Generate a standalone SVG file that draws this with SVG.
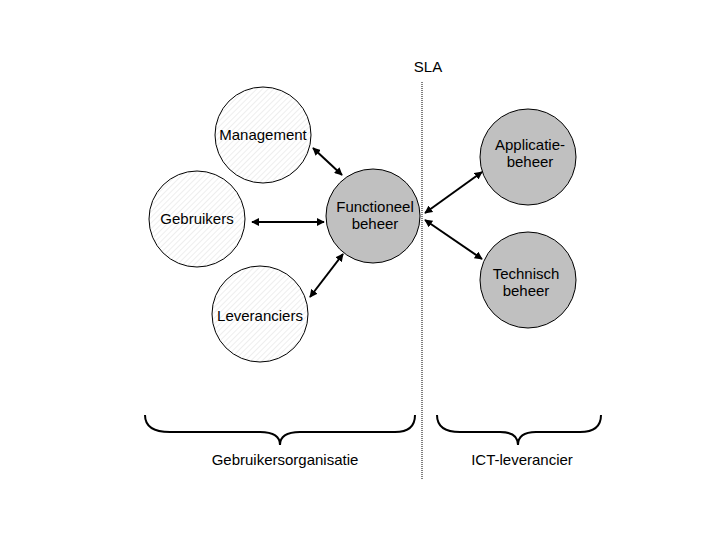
<svg xmlns="http://www.w3.org/2000/svg" width="720" height="540" viewBox="0 0 720 540">
<style>
text{font-family:"Liberation Sans",Arial,sans-serif;font-size:15px;fill:#000;text-anchor:middle}
.n{stroke:#000;stroke-width:1;fill:url(#h)}
.g{stroke:#000;stroke-width:1;fill:#c0c0c0}
.c line{stroke:#000;stroke-width:2;marker-start:url(#a);marker-end:url(#a)}
.b{fill:none;stroke:#000;stroke-width:2}
</style>
<defs>
<pattern id="h" width="4" height="4" patternUnits="userSpaceOnUse" patternTransform="rotate(45)">
<rect width="4" height="4" fill="#fff"/><line x1="0" y1="0" x2="0" y2="4" stroke="#ddd" stroke-width="1"/>
</pattern>
<marker id="a" viewBox="0 0 10 10" refX="9" refY="5" markerWidth="4" markerHeight="4" orient="auto-start-reverse"><path d="M0,0L10,5L0,10z" fill="#000"/></marker>
</defs>
<rect width="720" height="540" fill="#fff"/>
<line x1="422" y1="82" x2="422" y2="480" stroke="#000" stroke-width="1" stroke-dasharray="1,1"/>
<text x="428" y="72">SLA</text>
<g id="management"><circle class="n" cx="263" cy="135" r="48"/><text x="263" y="140">Management</text></g>
<g id="gebruikers"><circle class="n" cx="197" cy="219" r="48"/><text x="197" y="224">Gebruikers</text></g>
<g id="leveranciers"><circle class="n" cx="260" cy="314" r="48"/><text x="260" y="321">Leveranciers</text></g>
<g id="functioneel"><circle class="g" cx="373" cy="216" r="47"/><text x="375" y="212">Functioneel</text><text x="375" y="229">beheer</text></g>
<g id="applicatie"><circle class="g" cx="528" cy="157" r="48"/><text x="530" y="150">Applicatie-</text><text x="530" y="167">beheer</text></g>
<g id="technisch"><circle class="g" cx="528" cy="280" r="48"/><text x="526" y="279">Technisch</text><text x="526" y="296">beheer</text></g>
<g class="c">
<line x1="313" y1="148" x2="342" y2="175"/>
<line x1="252" y1="222" x2="324" y2="222"/>
<line x1="310" y1="297" x2="343" y2="254"/>
<line x1="425" y1="213" x2="482" y2="172"/>
<line x1="425" y1="220" x2="482" y2="259"/>
</g>
<g id="braces">
<path class="b" d="M145,415 Q145,432 170,432 L260,432 Q280,432 280,445 Q280,432 300,432 L395,432 Q415,432 415,415"/>
<path class="b" d="M437,415 Q437,432 460,432 L500,432 Q518,432 518,445 Q518,432 536,432 L580,432 Q601,432 601,415"/>
</g>
<text x="285" y="465">Gebruikersorganisatie</text>
<text x="522" y="465">ICT-leverancier</text>
</svg>
